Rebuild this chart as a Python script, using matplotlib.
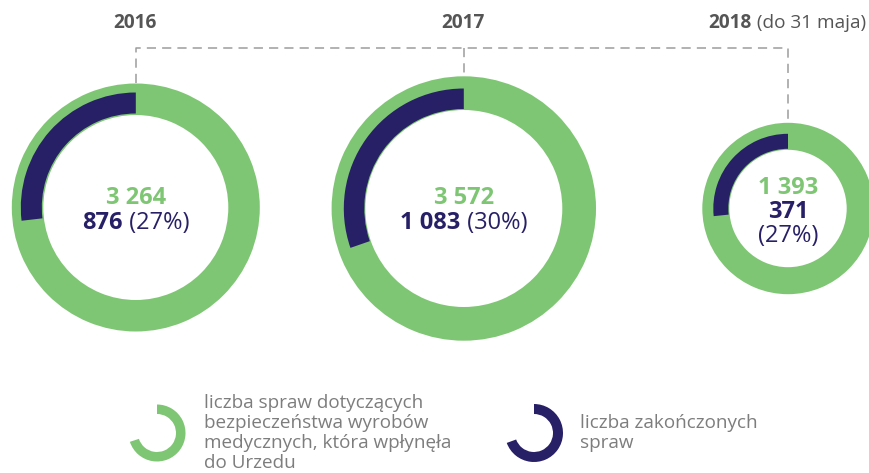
import matplotlib
matplotlib.use("Agg")
import matplotlib.pyplot as plt
from matplotlib.patches import Wedge

plt.rcParams['font.family'] = ['Open Sans', 'DejaVu Sans']

# data
years = ['2016', '2017', '2018']
year_notes = ['', '', ' (do 31 maja)']
received = [3264, 3572, 1393]
closed = [876, 1083, 371]
pct_labels = ['27%', '30%', '27%']

legend_received = ['liczba spraw dotyczących', 'bezpieczeństwa wyrobów',
                   'medycznych, która wpłynęła', 'do Urzedu']
legend_closed = ['liczba zakończonych', 'spraw']

GREEN = '#7ec674'
NAVY = '#272066'
GREY_T = '#555555'
GREY_L = '#7d7d7d'
DASH = '#9c9c9c'

# ring layout in pixels: center x, center y, green radius, green width, navy radius, navy width
rings = [
    (135.8, 207.5, 124.0, 31.5, 115.0, 21.0),
    (463.8, 208.5, 132.2, 33.7, 120.0, 20.5),
    (788.0, 208.5, 85.7, 27.0, 74.7, 15.0),
]

fig = plt.figure(figsize=(8.7, 4.73), dpi=100)
ax = fig.add_axes([0, 0, 1, 1])
ax.set_xlim(0, 870)
ax.set_ylim(473, 0)
ax.axis('off')


def fmt(n):
    return f"{n:,}".replace(',', ' ')


# dashed connector
top_y = 48
ax.plot([rings[0][0], rings[0][0], rings[2][0], rings[2][0]],
        [rings[0][1] - rings[0][2], top_y, top_y, rings[2][1] - rings[2][2]],
        color=DASH, lw=1.1, dashes=(6, 4), zorder=1)
ax.plot([rings[1][0], rings[1][0]], [top_y, rings[1][1] - rings[1][2]],
        color=DASH, lw=1.1, dashes=(6, 4), zorder=1)

fig.canvas.draw()
renderer = fig.canvas.get_renderer()


def pair_text(x, y, bold, normal, size, color):
    t1 = ax.text(x, y, bold, ha='left', va='center', fontsize=size,
                 fontweight='bold', color=color)
    t2 = ax.text(x, y, normal, ha='left', va='center', fontsize=size,
                 color=color)
    w1 = t1.get_window_extent(renderer).width
    w2 = t2.get_window_extent(renderer).width
    start = x - (w1 + w2) / 2
    t1.set_x(start)
    t2.set_x(start + w1)


for i, (cx, cy, gr, gw, nr, nw) in enumerate(rings):
    ax.add_patch(Wedge((cx, cy), gr, 0, 360, width=gw, color=GREEN, lw=0))
    sweep = 360.0 * closed[i] / received[i]
    ax.add_patch(Wedge((cx, cy), nr, 270 - sweep, 270, width=nw,
                       color=NAVY, lw=0))

    # year header
    if year_notes[i]:
        pair_text(cx - 1, 23, years[i], year_notes[i], 13.7, GREY_T)
    else:
        ax.text(cx - 1, 23, years[i], ha='center', va='center', fontsize=13.7,
                fontweight='bold', color=GREY_T)

    if i < 2:
        ax.text(cx, 198, fmt(received[i]), ha='center', va='center',
                fontsize=17, fontweight='bold', color=GREEN)
        pair_text(cx, 222.5, fmt(closed[i]), f" ({pct_labels[i]})", 17, NAVY)
    else:
        ax.text(cx, 188, fmt(received[i]), ha='center', va='center',
                fontsize=17, fontweight='bold', color=GREEN)
        ax.text(cx, 212, fmt(closed[i]), ha='center', va='center',
                fontsize=17, fontweight='bold', color=NAVY)
        ax.text(cx, 236, f"({pct_labels[i]})", ha='center', va='center',
                fontsize=17, color=NAVY)

# legend
ax.add_patch(Wedge((157, 433), 28.5, -90, 162, width=9.5, color=GREEN, lw=0))
for k, line in enumerate(legend_received):
    ax.text(204, 403 + 20 * k, line, ha='left', va='center', fontsize=13.6,
            color=GREY_L)

ax.add_patch(Wedge((534, 433), 29, -90, 160, width=10, color=NAVY, lw=0))
for k, line in enumerate(legend_closed):
    ax.text(580, 423 + 20 * k, line, ha='left', va='center', fontsize=13.6,
            color=GREY_L)

fig.savefig('out.png', dpi=100)
